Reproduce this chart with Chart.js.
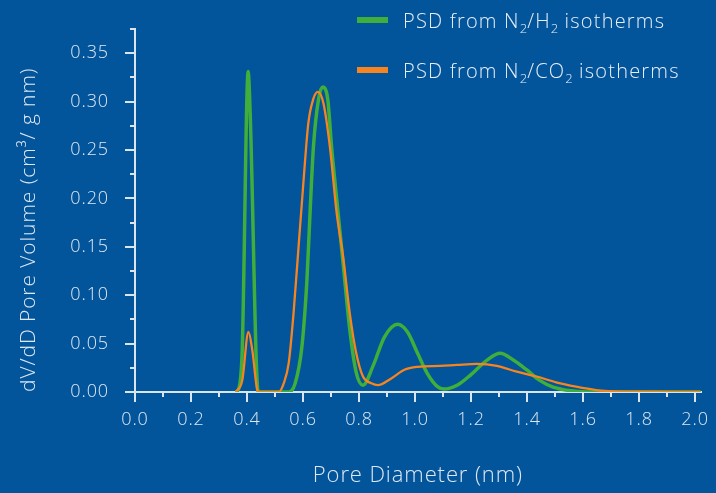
<!DOCTYPE html>
<html>
<head>
<meta charset="utf-8">
<script src="https://cdn.jsdelivr.net/npm/chart.js@4"></script>
<style>
  html, body { margin: 0; padding: 0; background: #02549b; }
  #wrap { position: relative; width: 716px; height: 493px; }
  .leg { position: absolute; left: 357px; font-family: "Open Sans", sans-serif; font-weight: 300;
         font-size: 20px; letter-spacing: 1.2px; color: #e8eef6; white-space: nowrap; }
  .leg i { position: absolute; left: 0; width: 31px; height: 6px; }
  .leg span { position: absolute; left: 46px; line-height: 24px; }
  .leg sub { font-size: 13px; vertical-align: -5px; line-height: 0; letter-spacing: 0; }
</style>
</head>
<body>
<div id="wrap">
  <canvas id="psd" width="716" height="493"></canvas>
  <div class="leg" style="top:9px"><i style="top:8px;background:#3fae3a"></i><span>PSD from N<sub>2</sub>/H<sub>2</sub> isotherms</span></div>
  <div class="leg" style="top:59px"><i style="top:8px;background:#f7841f"></i><span>PSD from N<sub>2</sub>/CO<sub>2</sub> isotherms</span></div>
</div>
<script>
// pore diameter (nm) and dV/dD values
const h2Diam = [0.36, 0.372, 0.383, 0.404, 0.411, 0.44, 0.549, 0.572, 0.596, 0.614, 0.625, 0.637, 0.655, 0.670,
  0.688, 0.702, 0.72, 0.743, 0.767, 0.79, 0.814, 0.85, 0.891, 0.938, 0.973, 1.009, 1.044, 1.08, 1.103, 1.15,
  1.198, 1.257, 1.304, 1.351, 1.398, 1.445, 1.493, 1.55, 1.61, 2.02];
const h2PSD = [0, 0.005, 0.045, 0.331, 0.29, 0, 0, 0.009, 0.047, 0.116, 0.185, 0.253, 0.302, 0.315,
  0.303, 0.253, 0.20, 0.133, 0.064, 0.02, 0.007, 0.027, 0.057, 0.070, 0.062, 0.040, 0.019, 0.0055, 0.003, 0.007,
  0.0175, 0.033, 0.040, 0.033, 0.023, 0.012, 0.005, 0.0015, 0, 0];

const co2Diam = [0.36, 0.383, 0.405, 0.419, 0.437, 0.445, 0.513, 0.531, 0.549, 0.566, 0.584, 0.602, 0.619, 0.637,
  0.653, 0.673, 0.696, 0.72, 0.743, 0.767, 0.79, 0.814, 0.844, 0.867, 0.915, 0.962, 1.009, 1.09, 1.15, 1.221,
  1.292, 1.363, 1.434, 1.504, 1.575, 1.646, 1.69, 1.8, 2.02];
const co2PSD = [0, 0.012, 0.062, 0.043, 0.002, 0, 0, 0.009, 0.03, 0.081, 0.150, 0.219, 0.278, 0.303,
  0.310, 0.298, 0.253, 0.185, 0.14, 0.081, 0.04, 0.016, 0.009, 0.007, 0.014, 0.023, 0.026, 0.027, 0.028, 0.029,
  0.027, 0.021, 0.016, 0.010, 0.0055, 0.002, 0.001, 0.0003, 0];

const xTicks = [0, 0.2, 0.4, 0.6, 0.8, 1.0, 1.2, 1.4, 1.6, 1.8, 2.0];
const xMinor = [0.1, 0.3, 0.5, 0.7, 0.9, 1.1, 1.3, 1.5, 1.7, 1.9];
const yTicks = [0, 0.05, 0.10, 0.15, 0.20, 0.25, 0.30, 0.35];
const yMinor = [0.025, 0.075, 0.125, 0.175, 0.225, 0.275, 0.325, 0.375];

const axisCol = '#dbe5f0';
const textCol = '#dfe8f2';
const font = { family: '"Open Sans", sans-serif', weight: 300 };

function pts(xs, ys) { return xs.map((x, i) => ({ x: x, y: ys[i] })); }

// wider lettering, closer to the original typeface
// (set again each pass, resizing the canvas clears it)
const spacing = {
  id: 'spacing',
  beforeUpdate(chart) { chart.ctx.letterSpacing = '0.9px'; },
  beforeDraw(chart) { chart.ctx.letterSpacing = '0.9px'; }
};

// short ticks between the labelled ones
const minorTicks = {
  id: 'minorTicks',
  afterDraw(chart) {
    const c = chart.ctx, xs = chart.scales.x, ys = chart.scales.y;
    c.save();
    c.strokeStyle = axisCol;
    c.lineWidth = 2;
    c.beginPath();
    xMinor.forEach(v => { const p = Math.round(xs.getPixelForValue(v)); c.moveTo(p, ys.bottom); c.lineTo(p, ys.bottom + 5); });
    yMinor.forEach(v => { const p = Math.round(ys.getPixelForValue(v)); c.moveTo(xs.left, p); c.lineTo(xs.left - 5, p); });
    c.stroke();
    c.restore();
  }
};

new Chart(document.getElementById('psd'), {
  type: 'line',
  data: {
    datasets: [
      { label: 'PSD from N₂/H₂ isotherms', data: pts(h2Diam, h2PSD), borderColor: '#3fae3a',
        borderWidth: 3.5, pointRadius: 0, cubicInterpolationMode: 'monotone', order: 1 },
      { label: 'PSD from N₂/CO₂ isotherms', data: pts(co2Diam, co2PSD), borderColor: '#f7841f',
        borderWidth: 2.3, pointRadius: 0, cubicInterpolationMode: 'monotone', order: 0 }
    ]
  },
  options: {
    responsive: false,
    animation: false,
    layout: { padding: { top: 29, right: 10, left: 0, bottom: 0 } },
    plugins: { legend: { display: false }, tooltip: { enabled: false } },
    scales: {
      x: {
        type: 'linear', min: 0, max: 2.02,
        afterBuildTicks: s => { s.ticks = xTicks.map(v => ({ value: v })); },
        afterFit: s => { s.height = 101; },
        ticks: { color: textCol, font: { ...font, size: 18 }, padding: 7, maxRotation: 0,
                 callback: v => v.toFixed(1) },
        grid: { drawOnChartArea: false, tickLength: 10, color: axisCol, lineWidth: 2 },
        border: { color: axisCol, width: 2 },
        title: { display: true, text: 'Pore Diameter (nm)', color: textCol,
                 font: { ...font, size: 22 }, padding: { top: 0, bottom: 4 } }
      },
      y: {
        min: 0, max: 0.375,
        afterBuildTicks: s => { s.ticks = yTicks.map(v => ({ value: v })); },
        afterFit: s => { s.width = 135; },
        ticks: { color: textCol, font: { ...font, size: 18 }, padding: 16,
                 callback: v => v.toFixed(2) },
        grid: { drawOnChartArea: false, tickLength: 10, color: axisCol, lineWidth: 2 },
        border: { color: axisCol, width: 2 },
        title: { display: true, text: 'dV/dD Pore Volume (cm³/ g nm)', color: textCol, align: 'start',
                 font: { ...font, size: 21 }, padding: { top: 16, bottom: 0 } }
      }
    }
  },
  plugins: [spacing, minorTicks]
});
</script>
</body>
</html>
